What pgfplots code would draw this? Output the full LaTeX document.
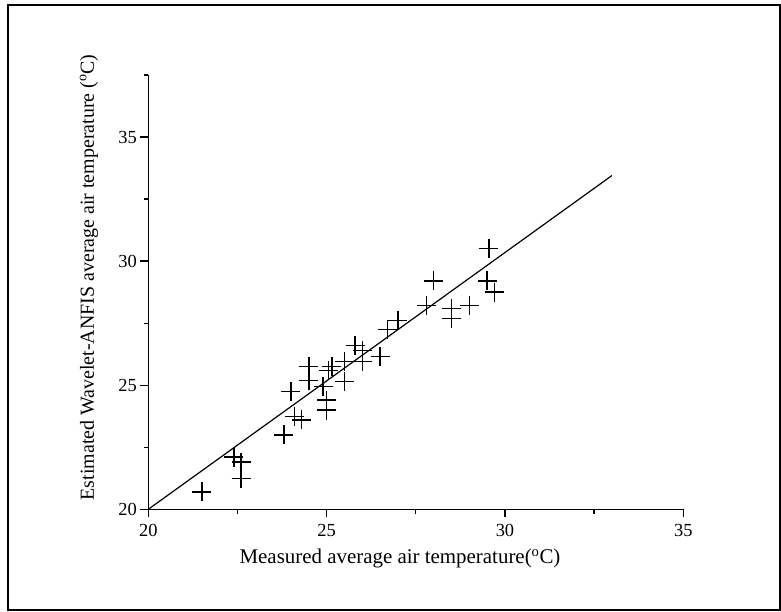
\documentclass[border=0pt]{standalone}
\usepackage{fontspec}
\setmainfont{Liberation Serif}
\usepackage{pgfplots}
\pgfplotsset{compat=1.18}
\begin{document}
\begin{tikzpicture}
\useasboundingbox (0,0) rectangle (781bp,612bp);
\draw[line width=2bp] (7.5bp,2bp) rectangle (780bp,607bp);
\begin{axis}[
  at={(148.3bp,102.7bp)}, anchor=south west,
  scale only axis, width=535bp, height=434.3bp,
  xmin=20, xmax=35, ymin=20, ymax=37.5,
  axis lines=left,
  axis line style={-, line width=1.5bp},
  xtick={20,25,30,35}, ytick={20,25,30,35},
  minor xtick={22.5,27.5,32.5},
  minor ytick={22.5,27.5,32.5,37.5},
  tick align=outside,
  major tick length=8bp, minor tick length=4.5bp,
  every tick/.style={line width=1.3bp, black},
  /pgf/number format/assume math mode=true,
  tick label style={font=\fontsize{18.5}{20}\selectfont},
  xticklabel style={yshift=-3bp},
  xlabel={Measured average air temperature(\textsuperscript{o}C)},
  ylabel={Estimated Wavelet-ANFIS average air temperature (\textsuperscript{o}C)},
  xlabel style={font=\fontsize{21}{24}\selectfont, at={(axis description cs:0.4705,-0.114)}, anchor=center},
  ylabel style={font=\fontsize{20}{24}\selectfont, at={(axis description cs:-0.111,0.534)}, anchor=center},
  clip=false,
]
\addplot[black, line width=1.2bp] coordinates {(20,20) (33,33.45)};
\addplot[only marks, mark=+, mark size=9.5bp, mark options={line width=1.4bp, black}] coordinates {
(21.5,20.7) (22.4,22.1) (22.6,21.9) (22.6,21.25) (23.8,23.0) (24.1,23.75)
(24.3,23.6) (24.0,24.75) (24.5,25.75) (24.5,25.2) (24.9,24.95) (25.0,24.4)
(25.0,24.0) (25.05,25.6) (25.15,25.75) (25.5,25.15) (25.5,25.95) (25.8,26.6)
(26.0,26.4) (26.0,25.95) (26.5,26.15) (26.7,27.25) (27.0,27.6) (27.8,28.2)
(28.0,29.2) (28.5,28.1) (28.5,27.7) (29.0,28.2) (29.5,29.2) (29.7,28.75)
(29.55,30.5)
};
\end{axis}
\end{tikzpicture}
\end{document}
